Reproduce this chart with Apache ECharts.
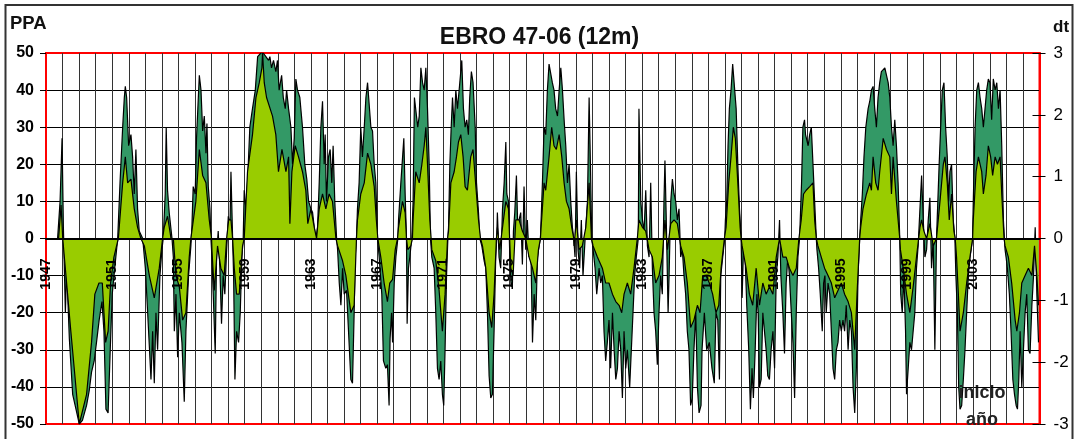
<!DOCTYPE html>
<html>
<head>
<meta charset="utf-8">
<script src="https://cdn.jsdelivr.net/npm/echarts@6.0.0/dist/echarts.min.js"></script>
<style>
  html, body { margin: 0; padding: 0; background: #fff; }
  #chart { width: 1079px; height: 439px; }
</style>
</head>
<body>
<div id="chart"></div>
<script>
// Years that carry a label on the category axis (every 4 years, at the start of the year)
const labelYears = [1947, 1951, 1955, 1959, 1963, 1967, 1971, 1975, 1979, 1983, 1987, 1991, 1995, 1999, 2003];

// PPA, 12-month index (left axis), [decimal year, value]
const ppaPoints = [
  [1947.00,0],[1947.70,0],[1947.85,10],[1947.97,27],[1948.05,3],[1948.17,-20],[1948.25,-8],[1948.41,-27],[1948.61,-42],[1948.81,-46],
  [1949.01,-50],[1949.20,-49],[1949.45,-45],[1949.61,-41],[1949.75,-36],[1949.91,-33],[1950.05,-28],[1950.21,-22],[1950.38,-17],[1950.50,-25],
  [1950.62,-46],[1950.75,-47],[1950.88,-30],[1951.00,-15],[1951.15,-8],[1951.33,0],
  [1951.47,15],[1951.63,30],[1951.73,38],[1951.79,41],[1951.87,38],[1951.99,25],[1952.13,28],[1952.23,22],[1952.33,12],[1952.43,24],[1952.53,8],[1952.63,2],[1952.84,0],
  [1953.00,-8],[1953.14,-20],[1953.34,-38],[1953.44,-25],[1953.54,-39],[1953.64,-20],[1953.74,-30],[1953.88,-10],[1954.00,-3],[1954.08,0],
  [1954.10,2],[1954.20,12],[1954.26,30],[1954.34,13],[1954.44,7],[1954.61,0],
  [1954.69,-5],[1954.75,-25],[1954.85,-15],[1954.95,-32],[1955.05,-20],[1955.21,-28],[1955.35,-44],[1955.45,-25],[1955.61,-10],[1955.75,-2],
  [1955.81,3],[1955.89,14],[1956.01,12],[1956.09,27],[1956.17,35],[1956.26,44],[1956.36,40],[1956.46,29],[1956.56,33],[1956.66,23],[1956.72,31],[1956.80,14],[1956.90,8],[1956.96,0],
  [1957.02,-5],[1957.10,-15],[1957.22,-31],[1957.30,-5],[1957.40,2],[1957.50,-8],[1957.60,-23],[1957.70,-10],[1957.80,-15],[1957.91,-3],
  [1958.01,6],[1958.11,3],[1958.17,18],[1958.27,0],
  [1958.33,-10],[1958.41,-38],[1958.51,-25],[1958.63,-28],[1958.73,-20],[1958.83,-5],[1958.91,0],
  [1958.97,13],[1959.07,8],[1959.17,15],[1959.31,30],[1959.47,35],[1959.64,40],[1959.78,49],[1959.98,50],[1960.12,50],[1960.28,49],
  [1960.44,48],[1960.52,49],[1960.62,46],[1960.74,48],[1960.88,45],[1960.98,48],[1961.08,40],[1961.23,44],[1961.33,38],[1961.45,35],
  [1961.53,40],[1961.65,35],[1961.79,30],[1961.89,20],[1961.99,27],[1962.09,43],[1962.19,40],[1962.33,38],[1962.49,30],[1962.63,20],
  [1962.75,16],[1962.86,10],[1963.00,8],[1963.10,7],[1963.20,3],[1963.30,0],
  [1963.40,3],[1963.50,15],[1963.60,30],[1963.70,37],[1963.80,20],[1963.86,28],[1963.94,10],[1964.06,22],[1964.16,24],[1964.26,15],[1964.34,25],[1964.44,10],[1964.55,0],
  [1964.61,-3],[1964.71,-12],[1964.81,-18],[1964.91,-8],[1965.01,-15],[1965.15,-14],[1965.27,-25],[1965.41,-38],[1965.51,-39],[1965.61,-20],[1965.67,-5],[1965.75,0],
  [1965.81,8],[1965.91,15],[1966.01,30],[1966.11,22],[1966.22,30],[1966.32,38],[1966.42,42],[1966.52,42],[1966.62,30],[1966.72,29],[1966.82,20],[1966.92,15],[1967.02,0],
  [1967.12,-5],[1967.28,-15],[1967.38,-33],[1967.52,-35],[1967.62,-34],[1967.72,-45],[1967.78,-27],[1967.87,-20],[1967.93,-28],[1968.03,-12],[1968.13,-5],[1968.25,0],
  [1968.29,5],[1968.43,15],[1968.53,15],[1968.61,27],[1968.69,12],[1968.77,0],
  [1968.81,-23],[1968.89,-8],[1968.97,-5],[1969.09,0],
  [1969.17,10],[1969.25,38],[1969.37,38],[1969.45,30],[1969.54,33],[1969.64,46],[1969.74,42],[1969.84,40],[1969.94,46],[1970.04,35],[1970.14,20],[1970.22,0],
  [1970.30,-5],[1970.44,-8],[1970.54,-20],[1970.64,-35],[1970.74,-38],[1970.84,-33],[1970.94,-42],[1971.02,-45],[1971.10,-30],[1971.19,-10],[1971.27,0],
  [1971.31,3],[1971.39,20],[1971.47,30],[1971.55,38],[1971.65,30],[1971.75,40],[1971.85,35],[1971.99,42],[1972.11,48],[1972.21,35],
  [1972.31,30],[1972.41,32],[1972.51,28],[1972.59,38],[1972.69,45],[1972.79,42],[1972.92,30],[1973.00,15],[1973.12,7],[1973.20,0],
  [1973.32,-2],[1973.46,-6],[1973.56,-8],[1973.66,-20],[1973.76,-37],[1973.86,-43],[1973.96,-42],[1974.06,-25],[1974.16,-5],[1974.22,0],
  [1974.26,7],[1974.36,-5],[1974.46,-8],[1974.57,8],[1974.67,15],[1974.77,26],[1974.83,12],[1974.93,10],[1975.01,-5],[1975.09,-13],
  [1975.17,-12],[1975.23,2],[1975.31,7],[1975.41,17],[1975.49,3],[1975.57,5],[1975.67,7],[1975.77,-7],[1975.87,14],[1975.97,-3],
  [1976.07,5],[1976.17,-5],[1976.28,-2],[1976.38,-28],[1976.48,-15],[1976.58,-22],[1976.68,-5],[1976.78,-2],[1976.86,0],
  [1976.90,5],[1976.98,15],[1977.08,30],[1977.18,28],[1977.28,40],[1977.38,47],[1977.48,47],[1977.58,42],[1977.68,40],[1977.78,35],
  [1977.89,33],[1977.99,40],[1978.09,46],[1978.19,40],[1978.29,32],[1978.39,25],[1978.49,15],[1978.59,20],[1978.69,10],[1978.79,3],[1978.87,0],
  [1978.95,-5],[1979.03,18],[1979.13,-3],[1979.23,-8],[1979.33,5],[1979.43,-10],[1979.56,0],[1979.70,10],[1979.80,38],[1979.88,20],[1979.96,0],
  [1980.04,-3],[1980.16,-8],[1980.26,-15],[1980.40,-8],[1980.50,-12],[1980.60,-10],[1980.70,-25],[1980.80,-33],[1980.90,-28],[1981.00,-22],
  [1981.10,-35],[1981.21,-20],[1981.31,-30],[1981.41,-38],[1981.51,-35],[1981.61,-25],[1981.71,-30],[1981.81,-43],[1981.91,-25],[1982.01,-35],
  [1982.11,-30],[1982.25,-40],[1982.35,-30],[1982.45,-20],[1982.55,-10],[1982.65,-5],[1982.77,0],
  [1982.81,35],[1982.92,10],[1983.02,5],[1983.12,2],[1983.22,13],[1983.32,-2],[1983.42,-5],[1983.52,15],[1983.62,-8],[1983.72,-20],
  [1983.82,-25],[1983.92,-34],[1984.02,-20],[1984.12,-10],[1984.22,-15],[1984.32,10],[1984.38,21],[1984.46,5],[1984.57,-20],[1984.63,-10],
  [1984.73,10],[1984.83,16],[1984.93,12],[1985.03,10],[1985.13,5],[1985.23,8],[1985.33,-5],[1985.43,-3],[1985.53,-10],[1985.63,-15],
  [1985.73,-25],[1985.83,-30],[1985.93,-45],[1986.03,-43],[1986.13,-30],[1986.24,-20],[1986.34,-40],[1986.44,-47],
  [1986.56,-45],[1986.62,-30],[1986.76,-20],[1986.90,-30],[1987.06,-28],[1987.22,-35],[1987.36,-39],[1987.46,-20],[1987.57,-22],[1987.67,-38],
  [1987.75,-10],[1987.87,-5],[1987.99,0],
  [1988.03,5],[1988.11,10],[1988.19,25],[1988.27,35],[1988.37,40],[1988.47,47],[1988.57,47],[1988.68,35],[1988.78,20],[1988.88,8],[1988.98,0],
  [1989.04,-16],[1989.12,-3],[1989.22,-5],[1989.32,-18],[1989.44,-30],[1989.54,-46],[1989.64,-35],[1989.72,-43],[1989.83,-30],[1989.93,-15],
  [1990.01,-20],[1990.09,-40],[1990.19,-38],[1990.29,-20],[1990.39,-25],[1990.49,-30],[1990.59,-37],[1990.69,-38],[1990.79,-30],[1990.90,-25],
  [1991.00,-35],[1991.10,-10],[1991.20,-5],[1991.30,5],[1991.38,-10],[1991.50,-20],[1991.60,-31],[1991.70,-12],[1991.80,-5],[1991.90,-10],
  [1992.01,-20],[1992.11,-28],[1992.21,-43],[1992.31,-20],[1992.41,-5],[1992.51,0],
  [1992.55,5],[1992.63,15],[1992.71,30],[1992.81,32],[1992.87,28],[1992.95,28],[1993.03,25],[1993.12,28],[1993.22,30],[1993.32,30],[1993.42,10],[1993.52,0],
  [1993.56,-3],[1993.66,-8],[1993.76,-15],[1993.88,-25],[1993.96,-12],[1994.04,-10],[1994.12,-20],[1994.23,-12],[1994.33,-15],[1994.43,-25],
  [1994.53,-35],[1994.63,-38],[1994.73,-30],[1994.83,-28],[1994.93,-22],[1995.03,-25],[1995.13,-22],[1995.23,-25],[1995.33,-18],[1995.44,-30],
  [1995.54,-22],[1995.64,-25],[1995.74,-40],[1995.84,-47],[1995.94,-35],[1996.04,-10],[1996.14,0],
  [1996.20,5],[1996.30,12],[1996.40,22],[1996.51,30],[1996.65,35],[1996.75,37],[1996.85,40],[1996.95,41],[1997.05,35],[1997.15,30],
  [1997.25,38],[1997.35,42],[1997.45,45],[1997.56,45],[1997.66,46],[1997.76,44],[1997.86,42],[1997.96,38],[1998.06,30],[1998.16,25],
  [1998.26,32],[1998.36,25],[1998.46,15],[1998.56,0],
  [1998.62,-15],[1998.71,-20],[1998.81,-10],[1998.91,-25],[1998.97,-42],[1999.07,-35],[1999.17,-28],[1999.27,-30],[1999.37,-25],[1999.47,-20],
  [1999.57,-8],[1999.67,-2],[1999.78,8],[1999.88,17],[1999.98,5],[2000.08,-5],[2000.18,-3],[2000.28,5],[2000.38,11],[2000.48,-8],
  [2000.58,0],[2000.68,-30],[2000.78,0],
  [2000.82,5],[2000.94,20],[2001.03,30],[2001.13,40],[2001.23,42],[2001.33,30],[2001.43,22],[2001.51,10],[2001.59,18],[2001.69,20],[2001.79,5],[2001.89,0],
  [2001.95,-10],[2002.04,-20],[2002.12,-40],[2002.20,-46],[2002.30,-45],[2002.40,-38],[2002.50,-30],[2002.60,-20],[2002.70,-10],[2002.80,-5],[2002.90,-2],[2002.96,0],
  [2003.00,10],[2003.11,30],[2003.21,40],[2003.31,42],[2003.41,38],[2003.51,35],[2003.61,30],[2003.71,30],[2003.81,40],[2003.91,43],
  [2004.01,42],[2004.11,32],[2004.21,43],[2004.32,40],[2004.42,42],[2004.52,35],[2004.62,40],[2004.72,25],[2004.82,5],[2004.88,0],
  [2004.92,-3],[2004.98,-5],[2005.06,-8],[2005.18,-15],[2005.28,-25],[2005.39,-38],[2005.49,-42],[2005.59,-45],[2005.67,-46],[2005.75,-38],
  [2005.83,-25],[2005.93,-40],[2006.03,-30],[2006.13,-20],[2006.23,-15],[2006.33,-30],[2006.43,-31],[2006.54,-18],[2006.64,-10],[2006.74,3],
  [2006.84,-15],[2006.94,-28]
];

// dt, standardised anomaly (right axis), [decimal year, value]
const dtPoints = [
  [1947.00,0],[1947.76,0],[1947.91,0.54],[1948.01,0],[1948.50,-1.5],[1949.01,-3.0],[1949.45,-2.52],[1949.75,-1.68],[1949.95,-0.9],[1950.20,-0.72],
  [1950.40,-0.72],[1950.60,-1.68],[1950.75,-1.5],[1950.90,-0.72],[1951.10,-0.3],[1951.37,0],
  [1951.63,0.9],[1951.79,1.32],[1951.93,0.9],[1952.13,0.96],[1952.33,0.48],[1952.53,0.18],[1952.73,0],
  [1952.94,-0.12],[1953.24,-0.6],[1953.54,-0.96],[1953.84,-0.48],[1954.04,0],
  [1954.14,0.18],[1954.34,0.36],[1954.55,0],
  [1954.69,0],[1954.85,-0.6],[1955.05,-0.78],[1955.25,-1.32],[1955.45,-1.2],[1955.65,-0.3],[1955.75,0],
  [1955.85,0],[1956.05,0.6],[1956.26,1.44],[1956.46,1.02],[1956.66,0.9],[1956.86,0.3],[1957.00,0],
  [1957.02,-0.18],[1957.16,-0.84],[1957.36,-0.12],[1957.56,-0.48],[1957.76,-0.6],[1957.91,0],
  [1958.03,0.3],[1958.17,0.3],[1958.27,0],
  [1958.37,-0.48],[1958.51,-0.9],[1958.67,-0.9],[1958.87,-0.12],[1958.97,0],
  [1959.17,1.08],[1959.47,1.68],[1959.68,2.28],[1959.88,2.52],[1960.04,2.76],[1960.08,3.0],[1960.18,2.52],[1960.32,2.28],[1960.68,1.98],[1960.88,1.68],
  [1961.04,1.08],[1961.25,1.44],[1961.49,1.08],[1961.65,1.32],[1961.73,0.24],[1961.85,1.08],[1962.05,1.5],[1962.25,1.32],[1962.49,1.08],[1962.69,0.78],
  [1962.81,0.24],[1963.00,0.48],[1963.20,0.18],[1963.34,0],
  [1963.50,0.48],[1963.70,0.72],[1963.90,0.48],[1964.10,0.72],[1964.30,0.6],[1964.51,0],
  [1964.61,-0.12],[1964.91,-0.36],[1965.11,-0.6],[1965.41,-1.2],[1965.61,-1.08],[1965.75,0],
  [1965.81,0.3],[1966.01,0.72],[1966.22,0.9],[1966.42,1.38],[1966.62,1.2],[1966.82,0.84],[1966.95,0.3],[1967.04,0],
  [1967.22,-0.3],[1967.42,-0.72],[1967.62,-1.02],[1967.76,-0.72],[1967.93,-0.66],[1968.09,-0.18],[1968.23,0],
  [1968.29,0.18],[1968.53,0.6],[1968.69,0.42],[1968.77,0],
  [1968.85,-0.18],[1969.03,-0.12],[1969.13,0],
  [1969.17,0.3],[1969.33,1.08],[1969.54,0.9],[1969.70,1.2],[1969.84,1.5],[1969.94,1.8],[1970.04,1.2],[1970.18,0.3],[1970.26,0],
  [1970.30,-0.18],[1970.54,-0.36],[1970.74,-0.84],[1970.94,-1.5],[1971.10,-0.9],[1971.25,0],
  [1971.31,0.12],[1971.45,0.9],[1971.65,1.08],[1971.79,1.32],[1971.91,1.56],[1972.05,1.68],[1972.19,1.32],[1972.31,0.84],[1972.45,0.78],[1972.65,1.32],
  [1972.79,1.44],[1972.96,0.84],[1973.12,0.3],[1973.24,0],
  [1973.36,-0.12],[1973.56,-0.48],[1973.76,-1.2],[1973.92,-1.44],[1974.06,-0.9],[1974.20,0],
  [1974.26,0.18],[1974.40,-0.18],[1974.57,0.18],[1974.77,0.6],[1974.93,0.48],[1975.07,-0.48],[1975.21,-0.6],[1975.37,0.3],[1975.57,0.3],[1975.77,0.12],
  [1975.97,0],[1976.17,-0.3],[1976.38,-0.48],[1976.58,-0.72],[1976.74,-0.18],[1976.86,0],
  [1976.90,0.18],[1977.08,0.9],[1977.18,0.78],[1977.38,1.32],[1977.54,1.8],[1977.68,1.5],[1977.82,1.44],[1977.99,1.68],[1978.15,1.32],[1978.29,0.9],
  [1978.43,0.6],[1978.59,0.48],[1978.75,0.18],[1978.87,0],
  [1978.89,-0.12],[1979.03,0.3],[1979.19,-0.18],[1979.39,-0.12],[1979.60,0.18],[1979.80,0.9],[1979.94,0],
  [1980.04,-0.12],[1980.30,-0.3],[1980.60,-0.48],[1980.80,-0.72],[1981.00,-0.72],[1981.21,-0.9],[1981.41,-1.02],[1981.61,-1.08],[1981.77,-1.2],[1981.91,-0.9],
  [1982.11,-0.72],[1982.31,-0.9],[1982.51,-0.48],[1982.71,0],
  [1982.81,0.3],[1983.02,0.18],[1983.22,0.12],[1983.42,-0.18],[1983.62,-0.3],[1983.82,-0.72],[1984.02,-0.6],[1984.22,-0.3],[1984.38,0.3],[1984.53,-0.18],
  [1984.73,0.24],[1984.93,0.3],[1985.13,0.24],[1985.33,-0.12],[1985.53,-0.3],[1985.73,-0.72],[1985.93,-1.44],[1986.13,-1.32],[1986.34,-1.08],
  [1986.50,-1.2],[1986.66,-0.6],[1986.86,-0.6],[1987.06,-0.72],[1987.26,-0.9],[1987.46,-1.2],[1987.63,-1.08],[1987.77,-0.48],[1987.97,0],
  [1988.07,0.18],[1988.23,0.9],[1988.37,1.32],[1988.51,1.8],[1988.63,1.62],[1988.78,0.9],[1988.92,0.18],[1988.98,0],
  [1989.04,-0.12],[1989.28,-0.48],[1989.48,-0.9],[1989.68,-1.08],[1989.89,-0.48],[1990.09,-1.08],[1990.29,-0.72],[1990.49,-0.9],[1990.69,-0.78],[1990.90,-0.9],
  [1991.10,-0.3],[1991.30,0],[1991.50,-0.3],[1991.70,-0.3],[1991.90,-0.48],[1992.11,-0.6],[1992.31,-0.48],[1992.47,0],
  [1992.61,0.3],[1992.75,0.72],[1992.91,0.78],[1993.12,0.84],[1993.32,0.9],[1993.42,0.3],[1993.52,0],
  [1993.62,-0.12],[1993.82,-0.3],[1994.02,-0.48],[1994.23,-0.6],[1994.43,-0.72],[1994.63,-0.96],[1994.83,-0.84],[1995.03,-0.72],[1995.23,-0.9],[1995.44,-1.02],
  [1995.64,-1.2],[1995.84,-1.8],[1995.98,-0.9],[1996.14,0],
  [1996.20,0.18],[1996.34,0.48],[1996.55,0.72],[1996.75,0.9],[1996.85,0.78],[1996.95,1.32],[1997.11,0.9],[1997.25,0.78],[1997.35,1.08],[1997.56,1.62],
  [1997.76,1.44],[1997.96,1.32],[1998.06,0.72],[1998.16,1.32],[1998.36,0.6],[1998.56,0],
  [1998.60,-0.18],[1998.77,-0.48],[1998.97,-0.9],[1999.17,-1.2],[1999.37,-0.78],[1999.57,-0.3],[1999.78,0.18],[1999.88,0.3],[2000.02,0.12],[2000.18,0],
  [2000.38,0.24],[2000.58,-0.12],[2000.78,0],
  [2000.82,0.12],[2000.99,0.6],[2001.19,1.2],[2001.29,1.32],[2001.43,0.9],[2001.55,0.3],[2001.69,0.72],[2001.83,0.12],[2001.91,0],
  [2001.99,-0.3],[2002.10,-0.9],[2002.20,-1.5],[2002.40,-1.2],[2002.60,-0.72],[2002.80,-0.3],[2002.96,0],
  [2003.00,0.3],[2003.17,1.08],[2003.31,1.32],[2003.51,1.08],[2003.61,0.72],[2003.77,1.02],[2003.91,1.5],[2004.05,1.32],[2004.17,1.02],[2004.32,1.32],
  [2004.46,1.2],[2004.62,1.32],[2004.72,0.72],[2004.86,0],
  [2004.92,-0.12],[2005.12,-0.3],[2005.32,-0.72],[2005.53,-1.32],[2005.63,-1.5],[2005.79,-1.2],[2005.93,-0.72],[2006.13,-0.6],[2006.33,-0.48],[2006.54,-0.6],
  [2006.70,-0.12],[2006.84,-0.6],[2006.94,-1.08]
];

const FONT = '"Liberation Sans", Arial, Helvetica, sans-serif';
const GRID_TOP = 53;
const GRID_BOTTOM = 15;
const CHART_H = 439;
// distance from the bottom edge of the plot up to its middle (where value 0 sits)
const ZERO_OFFSET = -(CHART_H - GRID_TOP - GRID_BOTTOM) / 2;

const chart = echarts.init(document.getElementById('chart'), null, { renderer: 'canvas' });

chart.setOption({
  animation: false,
  backgroundColor: '#ffffff',
  title: {
    text: 'EBRO 47-06 (12m)',
    left: 'center',
    top: 21,
    textStyle: { fontFamily: FONT, fontSize: 23, fontWeight: 'bold', color: '#111' }
  },
  grid: {
    left: 46, right: 39.5, top: GRID_TOP, bottom: GRID_BOTTOM,
    containLabel: false, outerBoundsMode: 'none',
    show: true, backgroundColor: '#ffffff',
    borderColor: '#ff0000', borderWidth: 2
  },
  xAxis: [
    {
      // year labels and the zero line, drawn over the filled areas
      type: 'value', min: 1947, max: 2007, interval: 1, z: 10,
      position: 'bottom', offset: ZERO_OFFSET,
      axisLine: { show: true, onZero: false, lineStyle: { color: '#000', width: 2 } },
      axisTick: { show: false },
      splitLine: { show: false },
      axisLabel: {
        show: true, rotate: 90, margin: 20,
        fontFamily: FONT, fontSize: 14, fontWeight: 'bold', color: '#000',
        showMinLabel: true, showMaxLabel: false, hideOverlap: false,
        formatter: v => labelYears.includes(Math.round(v)) ? String(Math.round(v)) : ''
      }
    },
    {
      // one vertical grid line per year, behind the series
      type: 'value', min: 1947, max: 2007, interval: 1, z: 0,
      position: 'top',
      axisLine: { show: false, onZero: false },
      axisTick: { show: false },
      axisLabel: { show: false },
      splitLine: { show: true, showMinLine: false, showMaxLine: false, lineStyle: { color: '#333', width: 1 } }
    }
  ],
  yAxis: [
    {
      type: 'value', position: 'left', min: -50, max: 50, interval: 10,
      axisLine: { show: true, onZero: false, lineStyle: { color: '#ff0000', width: 2 } },
      axisTick: { show: true, inside: false, length: 6, lineStyle: { color: '#000', width: 1 } },
      axisLabel: { margin: 12, fontFamily: FONT, fontSize: 16, fontWeight: 'bold', color: '#000' },
      splitLine: { show: true, showMinLine: false, showMaxLine: false, lineStyle: { color: '#000', width: 1 } }
    },
    {
      type: 'value', position: 'right', min: -3, max: 3, interval: 1, z: 5,
      axisLine: { show: true, onZero: false, lineStyle: { color: '#ff0000', width: 2 } },
      axisTick: { show: true, inside: false, length: 6, lineStyle: { color: '#000', width: 1 } },
      axisLabel: { margin: 14, fontFamily: FONT, fontSize: 17, color: '#000' },
      splitLine: { show: false }
    },
    {
      // inner half of the crossing ticks on the right axis
      type: 'value', position: 'right', offset: 0, min: -3, max: 3, interval: 1, z: 5,
      axisLine: { show: false, onZero: false },
      axisTick: { show: true, inside: true, length: 7, lineStyle: { color: '#000', width: 1 } },
      axisLabel: { show: false },
      splitLine: { show: false }
    }
  ],
  series: [
    {
      name: 'PPA', type: 'line', xAxisIndex: 0, yAxisIndex: 0, z: 2,
      data: ppaPoints, symbol: 'none', showSymbol: false,
      lineStyle: { color: '#000', width: 1.2 },
      areaStyle: { color: '#339966', opacity: 1 }
    },
    {
      name: 'dt', type: 'line', xAxisIndex: 0, yAxisIndex: 1, z: 3,
      data: dtPoints, symbol: 'none', showSymbol: false,
      lineStyle: { color: '#000', width: 1.2 },
      areaStyle: { color: '#99cc00', opacity: 1 }
    }
  ],
  graphic: [
    {
      type: 'rect', silent: true, z: -1,
      shape: { x: 5.5, y: 5, width: 1067, height: 470 },
      style: { fill: 'none', stroke: '#333', lineWidth: 2 }
    },
    {
      type: 'text', left: 10, top: 14, z: 50,
      style: { text: 'PPA', font: 'bold 18.5px ' + FONT, fill: '#111' }
    },
    {
      type: 'text', left: 1053, top: 19, z: 50,
      style: { text: 'dt', font: 'bold 17px ' + FONT, fill: '#111' }
    },
    {
      type: 'text', x: 982, y: 380, z: 50,
      style: {
        text: 'inicio\naño', font: 'bold 18px ' + FONT, fill: '#222',
        align: 'center', textAlign: 'center', verticalAlign: 'top', textVerticalAlign: 'top', lineHeight: 27
      }
    }
  ]
});
</script>
</body>
</html>
